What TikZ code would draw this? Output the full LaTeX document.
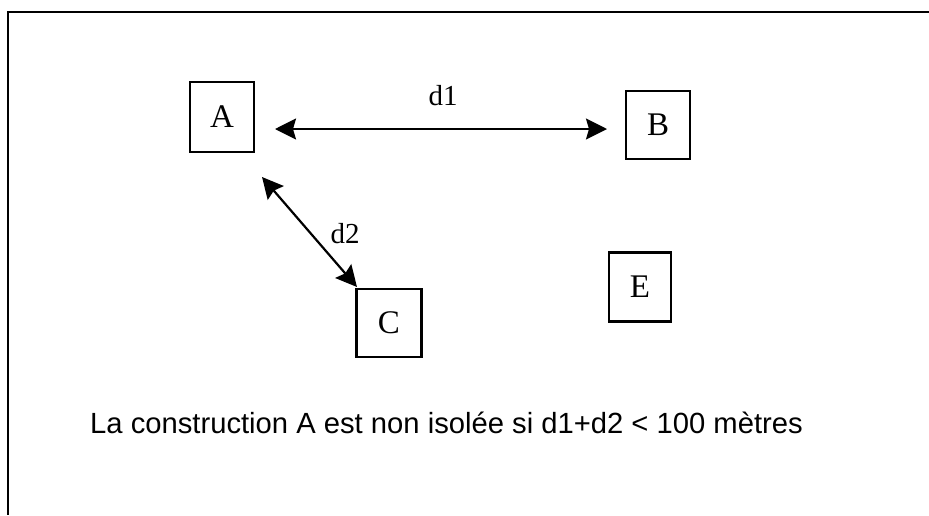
\documentclass[tikz,border=0pt]{standalone}
\usepackage{fontspec}
\setmainfont{Liberation Serif}
\newfontfamily\sansfont{Liberation Sans}
\usetikzlibrary{arrows.meta}

\tikzset{
    bldg/.style={draw, line width=2.2pt, minimum width=64pt, minimum height=68pt, inner sep=0pt, font=\fontsize{33}{35}\selectfont},
    dist/.style={line width=2.2pt, {Stealth[length=21pt, width=21pt, inset=3pt]}-{Stealth[length=21pt, width=21pt, inset=3pt]}},
    lbl/.style={font=\fontsize{29}{31}\selectfont}
}

\begin{document}
\begin{tikzpicture}[x=1pt, y=-1pt]
        \useasboundingbox (0, 0) rectangle (929, 515);
        \draw[line width=2.4pt] (929, 12) -- (8, 12) -- (8, 515);

        \node[bldg, minimum height=70pt] (A) at (222, 117) {A};
        \node[bldg] (B) at (658, 125) {B};
        \node[bldg, minimum width=65pt] (C) at (389, 323) {C};
        \node[bldg, minimum width=62pt, minimum height=69pt] (E) at (640, 287) {E};

        \coordinate (d1a) at (275, 129);
        \coordinate (d1b) at (607, 129);
        \coordinate (d2a) at (262, 177);
        \coordinate (d2b) at (357, 287);

        \draw[dist] (d1a) -- (d1b);
        \draw[dist] (d2a) -- (d2b);
        \node[lbl] (d1) at (443, 96) {d1};
        \node[lbl] (d2) at (345, 234) {d2};

        \node[anchor=base west, inner sep=0pt, font=\sansfont\fontsize{29.2}{31}\selectfont] (txt) at (90, 433) {La construction A est non isolée si d1+d2 < 100 mètres};
    \end{tikzpicture}
\end{document}
